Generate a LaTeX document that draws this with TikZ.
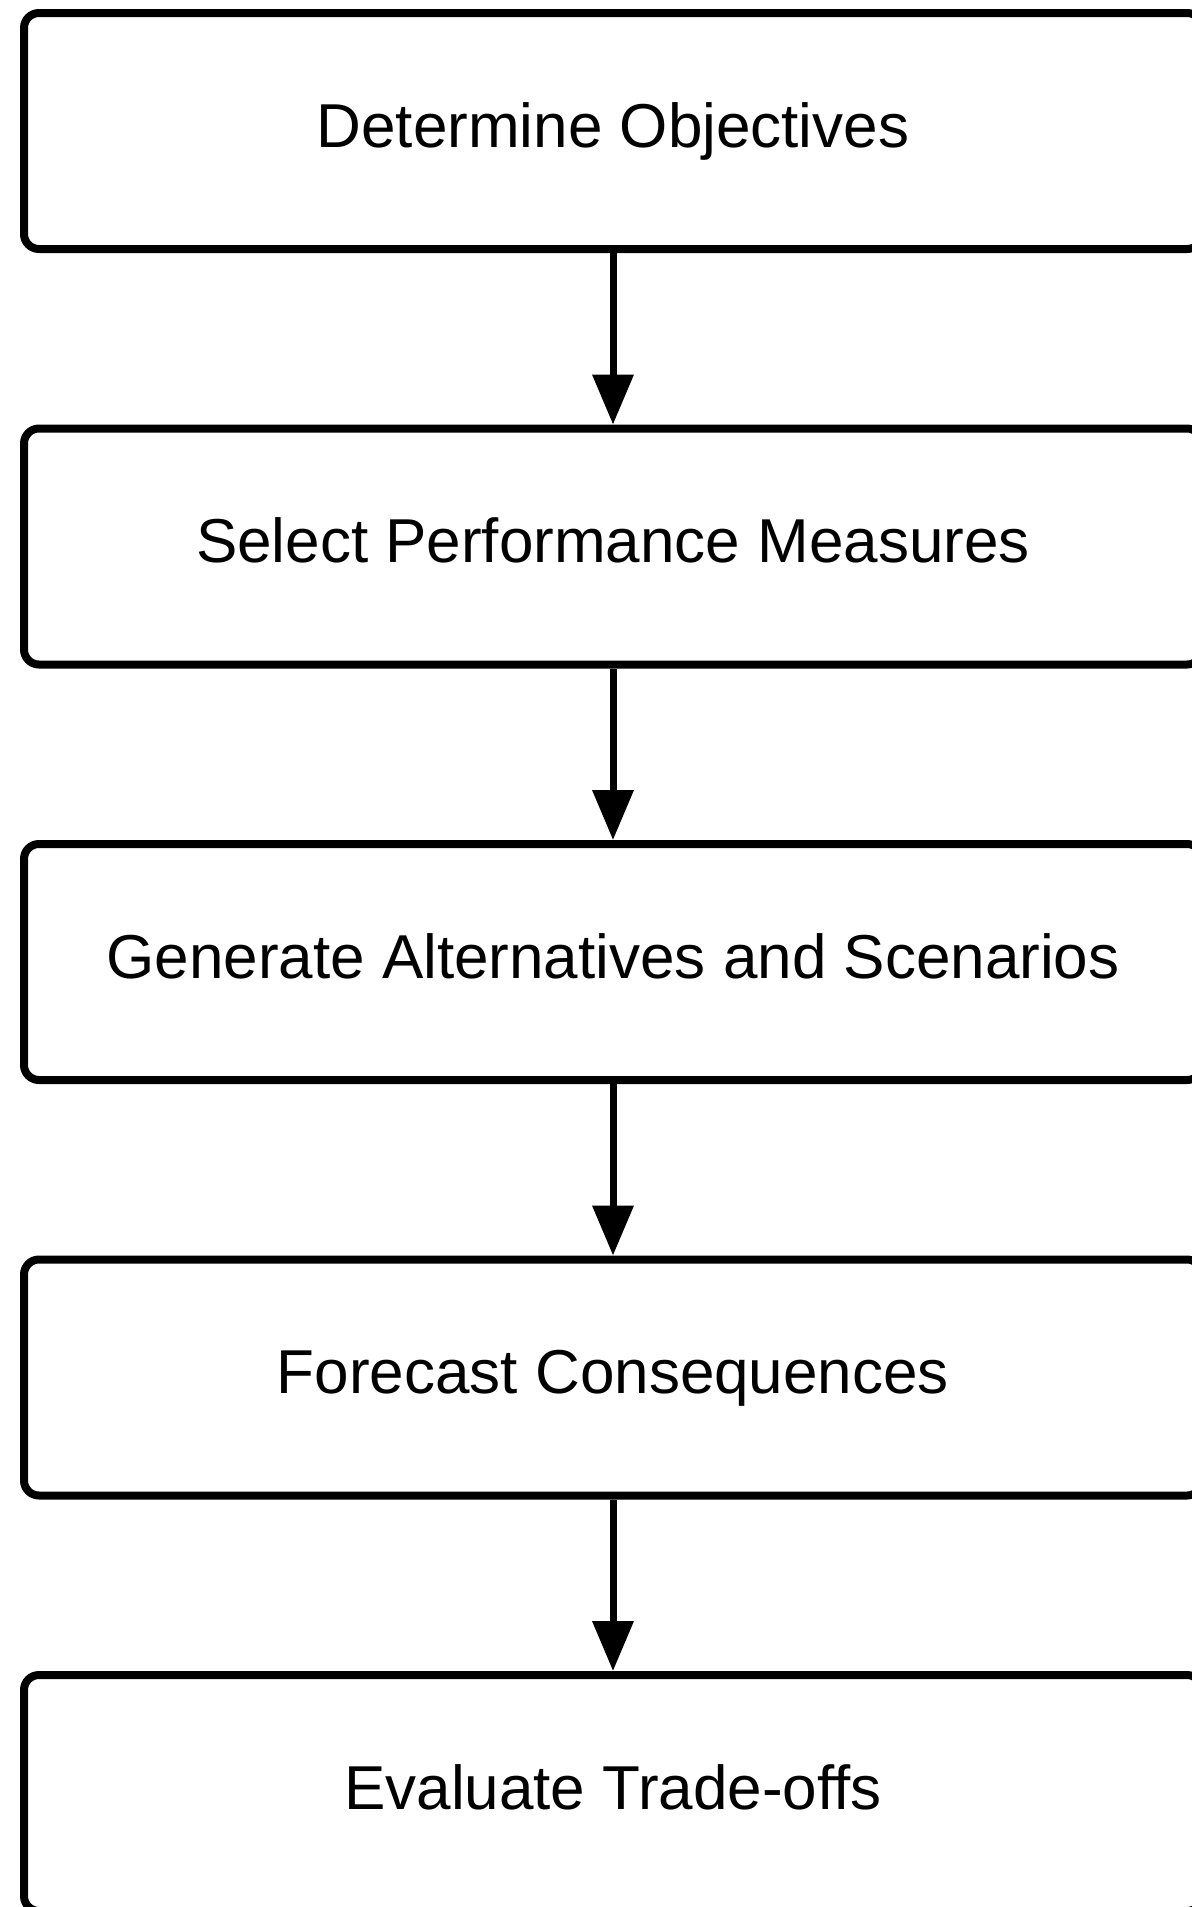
\documentclass[tikz,border=0pt]{standalone}
\usepackage{fontspec}
\setmainfont{Liberation Sans}
\usetikzlibrary{arrows.meta}
\begin{document}
\begin{tikzpicture}[x=0.5pt,y=-0.5pt,
  stepbox/.style={draw=black, line width=4pt, rounded corners=7.5pt, fill=white,
    minimum width=589pt, minimum height=118pt, inner sep=0pt,
    font=\fontsize{31pt}{36pt}\selectfont, text height=20pt, text depth=4pt},
  flow/.style={line width=3.5pt, -{Triangle[length=25pt,width=20pt]}}]
\useasboundingbox[fill=white] (0,0) rectangle (1191,1907);
\node[stepbox] (b1) at (613,131) {Determine Objectives};
\node[stepbox] (b2) at (613,546.5) {Select Performance Measures};
\node[stepbox] (b3) at (613,962) {Generate Alternatives and Scenarios};
\node[stepbox] (b4) at (613,1377.5) {Forecast Consequences};
\node[stepbox] (b5) at (613,1793) {Evaluate Trade-offs};
\draw[flow] (b1.south) -- (b2.north);
\draw[flow] (b2.south) -- (b3.north);
\draw[flow] (b3.south) -- (b4.north);
\draw[flow] (b4.south) -- (b5.north);
\end{tikzpicture}
\end{document}
